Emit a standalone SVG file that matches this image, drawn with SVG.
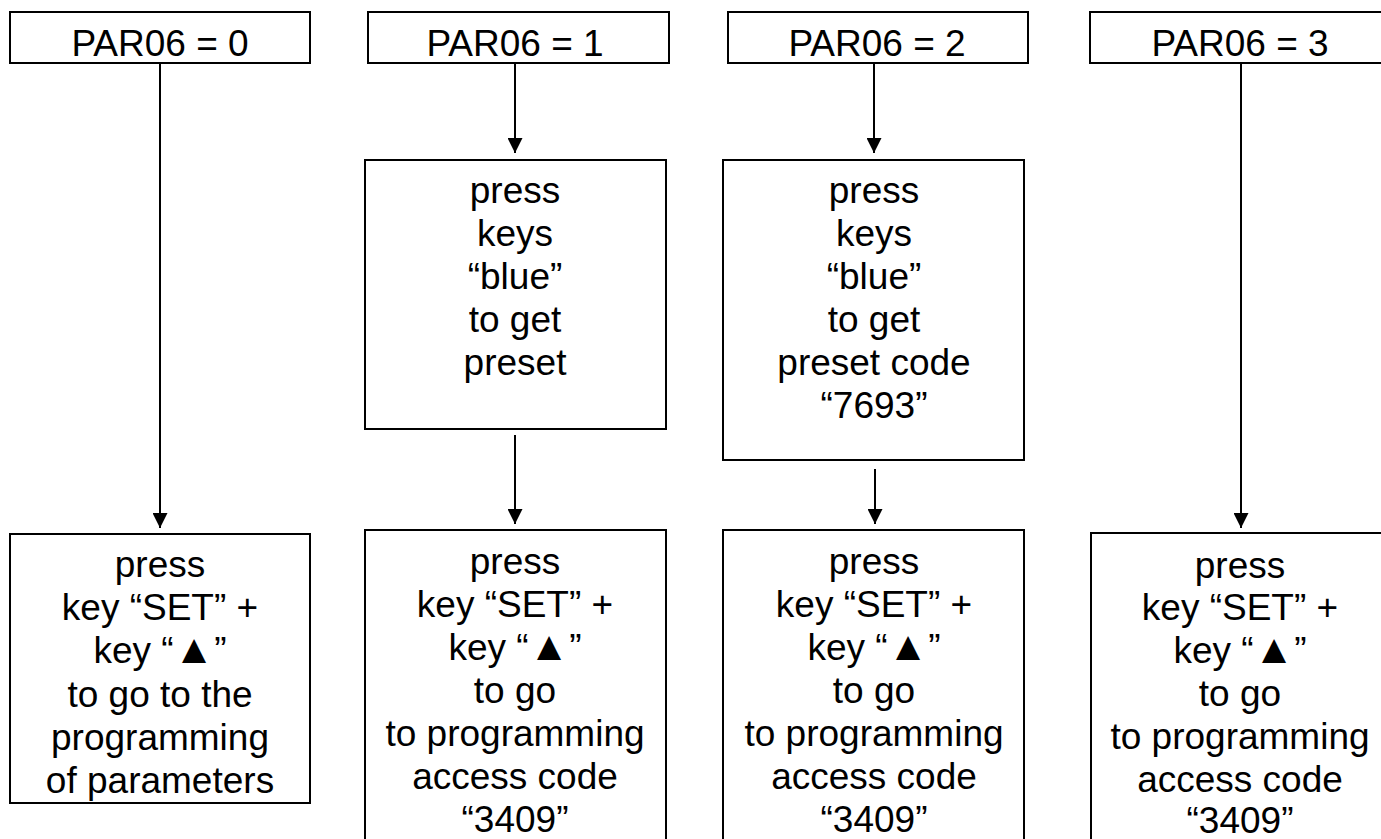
<svg xmlns="http://www.w3.org/2000/svg" width="1381" height="839" viewBox="0 0 1381 839">
<style>
.box{fill:#fff;stroke:#000;stroke-width:2}
.t{font-family:"Liberation Sans",Arial,sans-serif;font-size:37px;fill:#000;text-anchor:middle}
.tri{font-size:41px}
.c{stroke:#000;stroke-width:2;fill:none;marker-end:url(#ah)}
</style>
<defs>
<marker id="ah" markerUnits="userSpaceOnUse" markerWidth="15" markerHeight="15" viewBox="0 0 15 15" refX="15" refY="7.5" orient="auto">
<path d="M0,0 L15,7.5 L0,15 Z" fill="#000"/>
</marker>
</defs>
<rect width="1381" height="839" fill="#fff"/>
<g id="connectors">
<line class="c" x1="160" y1="63" x2="160" y2="528"/>
<line class="c" x1="515" y1="63" x2="515" y2="153"/>
<line class="c" x1="874" y1="63" x2="874" y2="153"/>
<line class="c" x1="1241" y1="63" x2="1241" y2="528"/>
<line class="c" x1="515" y1="435" x2="515" y2="524"/>
<line class="c" x1="875" y1="469" x2="875" y2="524"/>
</g>
<g id="top0"><rect class="box" x="10" y="12" width="300" height="51"/><text class="t" x="160" y="56">PAR06 = 0</text></g>
<g id="top1"><rect class="box" x="368" y="12" width="301" height="51"/><text class="t" x="515" y="56">PAR06 = 1</text></g>
<g id="top2"><rect class="box" x="728" y="12" width="300" height="51"/><text class="t" x="877" y="56">PAR06 = 2</text></g>
<g id="top3"><rect class="box" x="1090" y="12" width="302" height="51"/><text class="t" x="1240" y="56">PAR06 = 3</text></g>
<g id="mid1"><rect class="box" x="365" y="160" width="301" height="269"/>
<text class="t" x="515"><tspan x="515" y="203">press</tspan><tspan x="515" y="246">keys</tspan><tspan x="515" y="289">“blue”</tspan><tspan x="515" y="332">to get</tspan><tspan x="515" y="375">preset</tspan></text></g>
<g id="mid2"><rect class="box" x="723" y="160" width="301" height="300"/>
<text class="t" x="874"><tspan x="874" y="203">press</tspan><tspan x="874" y="246">keys</tspan><tspan x="874" y="289">“blue”</tspan><tspan x="874" y="332">to get</tspan><tspan x="874" y="375">preset code</tspan><tspan x="874" y="418">“7693”</tspan></text></g>
<g id="bot0"><rect class="box" x="10" y="534" width="300" height="269"/>
<text class="t" x="160"><tspan x="160" y="577">press</tspan><tspan x="160" y="620">key “SET” +</tspan><tspan x="160" y="663">key “<tspan class="tri">▲</tspan>”</tspan><tspan x="160" y="707">to go to the</tspan><tspan x="160" y="750">programming</tspan><tspan x="160" y="793">of parameters</tspan></text></g>
<g id="bot1"><rect class="box" x="365" y="530" width="301" height="320"/>
<text class="t" x="515"><tspan x="515" y="574">press</tspan><tspan x="515" y="617">key “SET” +</tspan><tspan x="515" y="660">key “<tspan class="tri">▲</tspan>”</tspan><tspan x="515" y="703">to go</tspan><tspan x="515" y="746">to programming</tspan><tspan x="515" y="789">access code</tspan><tspan x="515" y="832">“3409”</tspan></text></g>
<g id="bot2"><rect class="box" x="723" y="530" width="301" height="320"/>
<text class="t" x="874"><tspan x="874" y="574">press</tspan><tspan x="874" y="617">key “SET” +</tspan><tspan x="874" y="660">key “<tspan class="tri">▲</tspan>”</tspan><tspan x="874" y="703">to go</tspan><tspan x="874" y="746">to programming</tspan><tspan x="874" y="789">access code</tspan><tspan x="874" y="832">“3409”</tspan></text></g>
<g id="bot3"><rect class="box" x="1091" y="533" width="302" height="320"/>
<text class="t" x="1240"><tspan x="1240" y="578">press</tspan><tspan x="1240" y="620">key “SET” +</tspan><tspan x="1240" y="663">key “<tspan class="tri">▲</tspan>”</tspan><tspan x="1240" y="706">to go</tspan><tspan x="1240" y="749">to programming</tspan><tspan x="1240" y="792">access code</tspan><tspan x="1240" y="833">“3409”</tspan></text></g>
</svg>
